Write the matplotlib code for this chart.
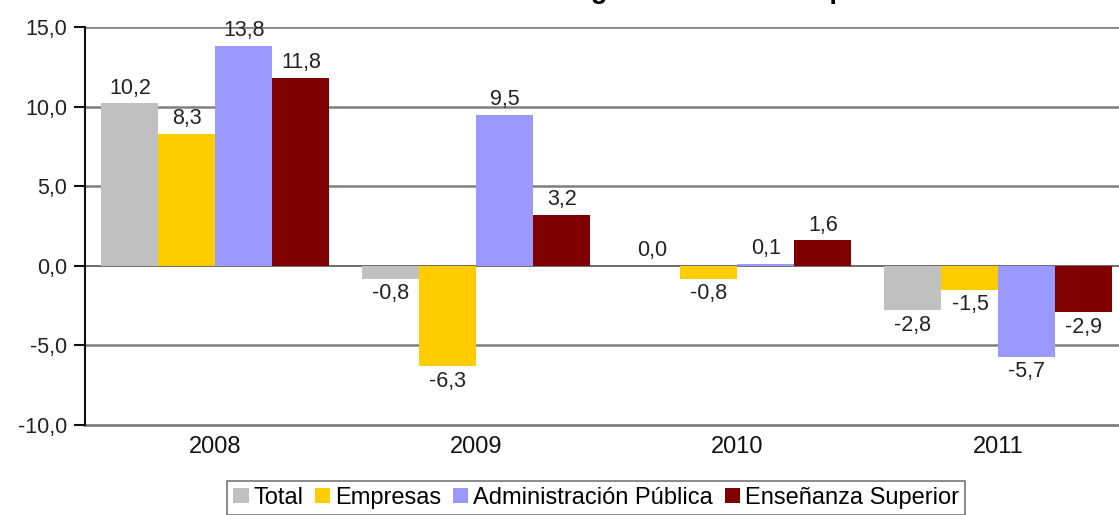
import matplotlib
matplotlib.use("Agg")
import matplotlib.pyplot as plt
import numpy as np
from matplotlib.patches import Patch

years = ["2008", "2009", "2010", "2011"]
series_names = ["Total", "Empresas", "Administración Pública", "Enseñanza Superior"]
total = [10.2, -0.8, 0.0, -2.8]
empresas = [8.3, -6.3, -0.8, -1.5]
administracion = [13.8, 9.5, 0.1, -5.7]
ensenanza = [11.8, 3.2, 1.6, -2.9]
colors = ["#C0C0C0", "#FFCC00", "#9999FF", "#800000"]
yticks = [15, 10, 5, 0, -5, -10]

W, H = 1119, 515
fig = plt.figure(figsize=(W / 100, H / 100), dpi=100)
fig.patch.set_facecolor("white")

left_px, top_px, bottom_px = 85, 27, 425
ax = fig.add_axes([left_px / W, 1 - bottom_px / H, (W - left_px) / W, (bottom_px - top_px) / H])

group_px = 261.0
xmax = -0.5 + (W - left_px) / group_px
ax.set_xlim(-0.5, xmax)
ax.set_ylim(-10, 15)

x = np.arange(len(years))
bw = 57.0 / group_px
data = [total, empresas, administracion, ensenanza]

sans = ["Liberation Sans", "DejaVu Sans"]
narrow = ["Liberation Sans Narrow", "Liberation Sans", "DejaVu Sans"]
label_font = dict(family=sans, fontsize=15.5, color="#222222")

for i, (vals, col) in enumerate(zip(data, colors)):
    xs = x + (i - 1.5) * bw
    ax.bar(xs, vals, width=bw, color=col, zorder=3, linewidth=0)
    for xi, v in zip(xs, vals):
        txt = f"{v:.1f}".replace(".", ",")
        if v >= 0:
            ax.text(xi, v + 0.3, txt, ha="center", va="bottom", zorder=4, **label_font)
        else:
            ax.text(xi, v - 0.3, txt, ha="center", va="top", zorder=4, **label_font)

# horizontal grid
for yv in [15, 10, 5, -5]:
    ax.axhline(yv, color="#7f7f7f", linewidth=1.8, zorder=1)
ax.axhline(0, color="#555555", linewidth=1.2, zorder=2)

for s in ["top", "right"]:
    ax.spines[s].set_visible(False)
ax.spines["bottom"].set_color("#7f7f7f")
ax.spines["bottom"].set_linewidth(2.0)
ax.spines["left"].set_color("#111111")
ax.spines["left"].set_linewidth(1.5)
ax.spines["left"].set_zorder(5)

ax.set_yticks(yticks)
ax.set_yticklabels([f"{v:.1f}".replace(".", ",") for v in yticks],
                   family=sans, fontsize=15.5, color="#222222")
ax.tick_params(axis="y", direction="out", length=8, width=1.5, color="#111111", pad=5)

ax.set_xticks(x)
ax.set_xticklabels(years, family=narrow, fontsize=17, color="#111111")
ax.tick_params(axis="x", length=0, pad=8)

handles = [Patch(facecolor=c, edgecolor="none", label=n) for c, n in zip(colors, series_names)]
leg = fig.legend(handles=handles, loc="upper center", bbox_to_anchor=(596 / W, 1 - 481 / H),
                 ncol=4, frameon=True, fancybox=False, edgecolor="#555555",
                 prop=dict(family=narrow, size=17),
                 handlelength=0.65, handleheight=0.65, handletextpad=0.2, columnspacing=0.5,
                 borderpad=0.25, borderaxespad=0)
leg.get_frame().set_linewidth(1.2)

fig.text(86 / W, 1 + 2 / H,
         "Gráfico 4. Tasas de variación anual del gasto en I+D en el periodo 2008-11",
         ha="left", va="baseline", fontsize=19.5, fontweight="bold",
         family=sans, color="black")

fig.savefig("out.png", dpi=100, facecolor="white")
